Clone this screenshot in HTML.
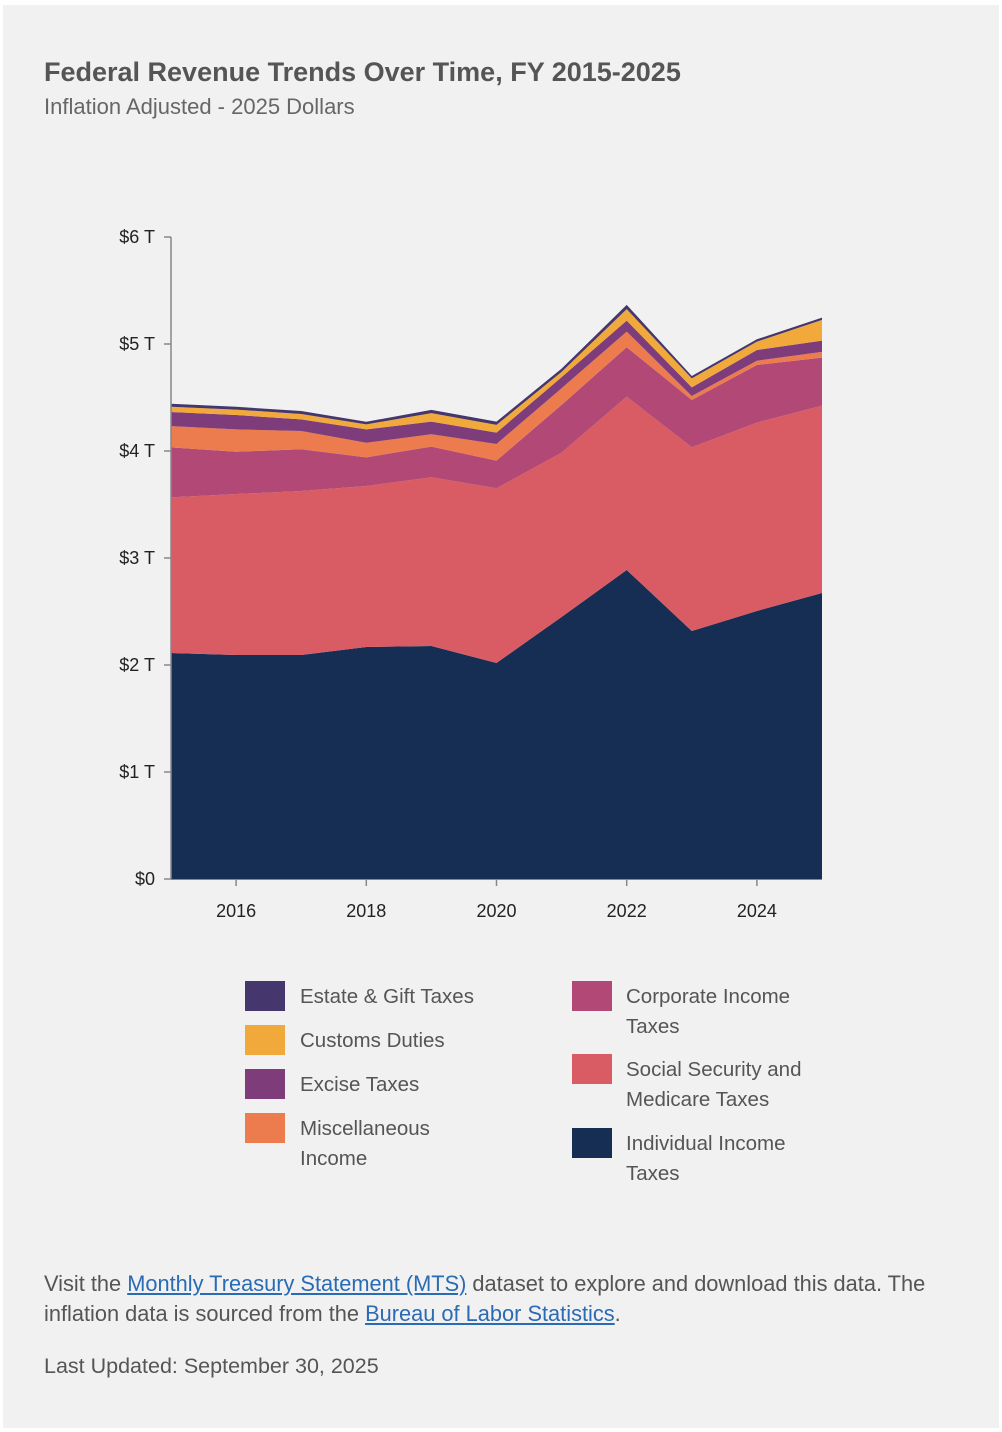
<!DOCTYPE html>
<html><head><meta charset="utf-8"><style>
body{margin:0;background:#fff;width:1002px;height:1432px;position:relative;font-family:"Liberation Sans",sans-serif;overflow:hidden}
#panel{position:absolute;left:3px;top:5px;width:996px;height:1423px;background:#f1f1f1}
.t{position:absolute;color:#555;white-space:nowrap}
.sw{position:absolute;width:40px;height:30px}
.lt{position:absolute;font-size:20.5px;color:#555;line-height:30px}
a{color:#2a6bb5;text-decoration:underline}
</style></head><body>
<div id="panel"></div>
<div class="t" style="left:44px;top:57px;font-size:27px;font-weight:bold">Federal Revenue Trends Over Time, FY 2015-2025</div>
<div class="t" style="left:44px;top:94px;font-size:22px;color:#666">Inflation Adjusted - 2025 Dollars</div>
<svg id="chart" style="position:absolute;left:0;top:0" width="1002" height="960"></svg>

<div>
<div class="sw" style="left:245px;top:981px;background:#45366e"></div>
<div class="lt" style="left:300px;top:982px">Estate &amp; Gift Taxes</div>
<div class="sw" style="left:245px;top:1025px;background:#f2a93b"></div>
<div class="lt" style="left:300px;top:1026px">Customs Duties</div>
<div class="sw" style="left:245px;top:1069px;background:#7e3d7a"></div>
<div class="lt" style="left:300px;top:1070px">Excise Taxes</div>
<div class="sw" style="left:245px;top:1113px;background:#ec7b4d"></div>
<div class="lt" style="left:300px;top:1114px">Miscellaneous<br>Income</div>
<div class="sw" style="left:572px;top:981px;background:#b24875"></div>
<div class="lt" style="left:626px;top:982px">Corporate Income<br>Taxes</div>
<div class="sw" style="left:572px;top:1054px;background:#d95b63"></div>
<div class="lt" style="left:626px;top:1055px">Social Security and<br>Medicare Taxes</div>
<div class="sw" style="left:572px;top:1128px;background:#162d54"></div>
<div class="lt" style="left:626px;top:1129px">Individual Income<br>Taxes</div>
</div>

<div class="t" style="left:44px;top:1269px;font-size:21.8px;line-height:30px">Visit the <a href="#">Monthly Treasury Statement (MTS)</a> dataset to explore and download this data. The<br>inflation data is sourced from the <a href="#">Bureau of Labor Statistics</a>.</div>
<div class="t" style="left:44px;top:1354px;font-size:21.5px">Last Updated: September 30, 2025</div>

<script>
const years=[2015,2016,2017,2018,2019,2020,2021,2022,2023,2024,2025];
const individual=[2.112,2.093,2.093,2.168,2.178,2.019,2.449,2.888,2.318,2.505,2.673];
const socialSecurity=[1.455,1.505,1.533,1.505,1.577,1.633,1.536,1.620,1.717,1.760,1.751];
const corporate=[0.467,0.395,0.390,0.268,0.286,0.258,0.446,0.462,0.442,0.539,0.449];
const miscellaneous=[0.199,0.209,0.171,0.136,0.116,0.156,0.156,0.146,0.037,0.040,0.053];
const excise=[0.131,0.134,0.109,0.125,0.118,0.106,0.103,0.103,0.081,0.100,0.106];
const customs=[0.050,0.051,0.050,0.047,0.079,0.072,0.050,0.107,0.084,0.078,0.193];
const estate=[0.028,0.026,0.028,0.024,0.030,0.030,0.030,0.040,0.022,0.022,0.022];
const yTicks=[0,1,2,3,4,5,6];
const yTickLabels=["$0","$1 T","$2 T","$3 T","$4 T","$5 T","$6 T"];
const xTicks=[2016,2018,2020,2022,2024];

const NS="http://www.w3.org/2000/svg";
const svg=document.getElementById('chart');
const x=v=>171+(v-2015)*(822-171)/10;
const y=v=>879-v*107;
function mk(t,a){const e=document.createElementNS(NS,t);for(const k in a)e.setAttribute(k,a[k]);svg.appendChild(e);return e;}

const series=[
 ['individual',individual,'#162d54'],
 ['social-security',socialSecurity,'#d95b63'],
 ['corporate',corporate,'#b24875'],
 ['miscellaneous',miscellaneous,'#ec7b4d'],
 ['excise',excise,'#7e3d7a'],
 ['customs',customs,'#f2a93b'],
 ['estate',estate,'#45366e']];
let base=years.map(()=>0);
series.forEach(([name,vals,col])=>{
  const top=base.map((b,i)=>b+vals[i]);
  let d='M'+years.map((yr,i)=>x(yr)+','+y(top[i])).join('L');
  for(let i=years.length-1;i>=0;i--)d+='L'+x(years[i])+','+y(base[i]);
  d+='Z';
  const p=mk('path',{d:d,fill:col});
  
  
  base=top;
});

const ax=mk('line',{x1:171,y1:y(6),x2:171,y2:879,stroke:'#888','stroke-width':1.5});


yTicks.forEach((v,i)=>{
  const tk=mk('line',{x1:164,x2:171,y1:y(v),y2:y(v),stroke:'#888','stroke-width':1.5});
  
  
  const t=mk('text',{x:155,y:y(v)+6,'text-anchor':'end','font-size':18,fill:'#222','font-family':'Liberation Sans, sans-serif'});
  t.textContent=yTickLabels[i];
  
  
});
const xa=mk('line',{x1:171,x2:822,y1:879.5,y2:879.5,stroke:'#888','stroke-width':1});


xTicks.forEach(v=>{
  const tk=mk('line',{x1:x(v),x2:x(v),y1:879,y2:886,stroke:'#888','stroke-width':1.5});
  
  
  const t=mk('text',{x:x(v),y:917,'text-anchor':'middle','font-size':18,fill:'#222','font-family':'Liberation Sans, sans-serif'});
  t.textContent=v;
  
  
});
</script>
</body></html>
